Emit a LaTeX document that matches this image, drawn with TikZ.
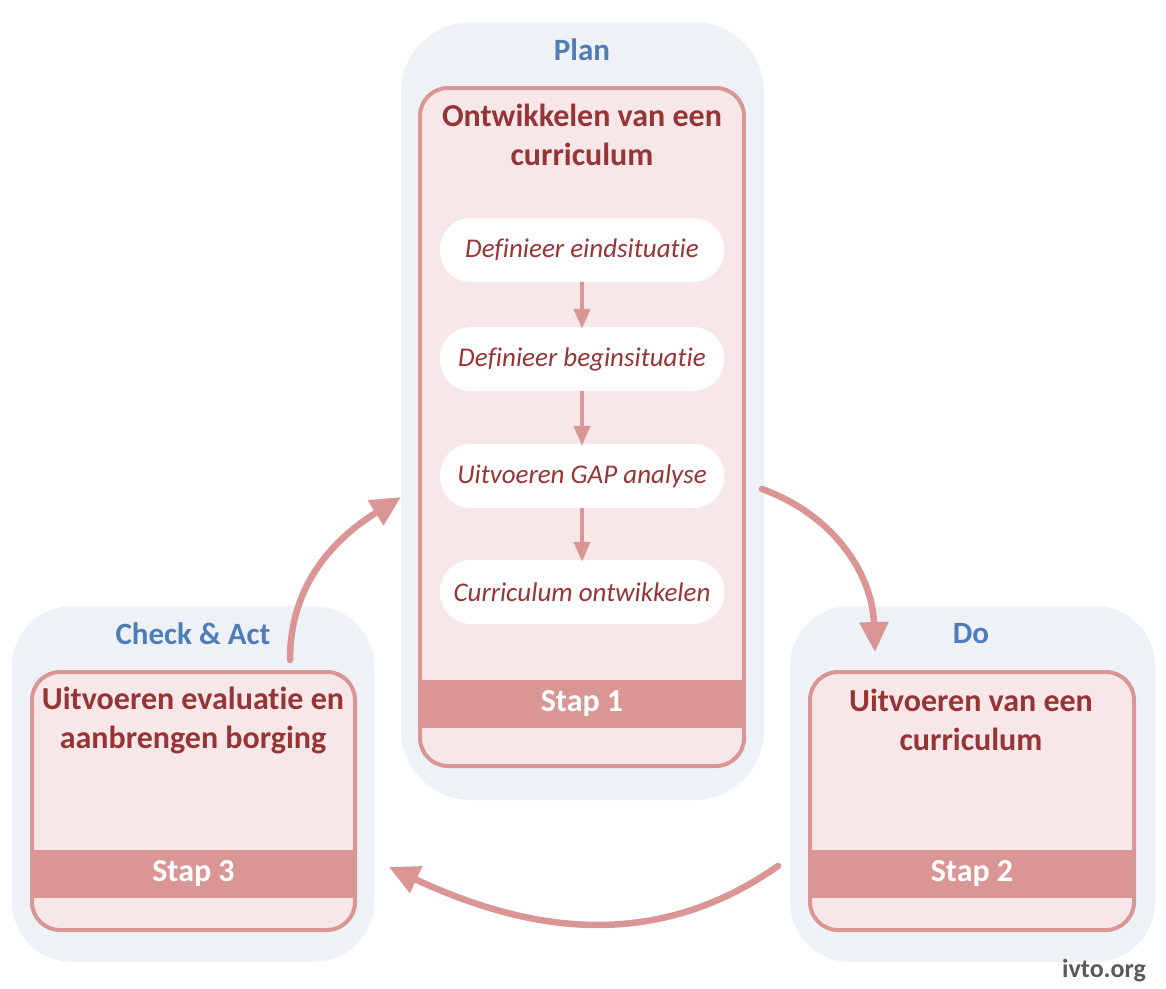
\documentclass[tikz,border=0pt]{standalone}
\usepackage{fontspec}
\setmainfont{Carlito}[Ligatures={NoCommon,NoRare,NoDiscretionary,NoContextual}]
\usetikzlibrary{arrows.meta}
\definecolor{outerfill}{HTML}{EEF2F7}
\definecolor{innerfill}{HTML}{F8E7E8}
\definecolor{pinkline}{HTML}{D99694}
\definecolor{darkred}{HTML}{963436}
\definecolor{phaseblue}{HTML}{4F7DB8}
\definecolor{markgray}{HTML}{595959}
\begin{document}
\begin{tikzpicture}[x=1pt,y=-1pt,
  outerbox/.style={fill=outerfill, draw=none, inner sep=0pt},
  innerbox/.style={fill=innerfill, draw=pinkline, line width=4pt, rounded corners=28pt, inner sep=0pt},
  band/.style={fill=pinkline, draw=none, inner sep=0pt, minimum height=48pt, text=white, font=\bfseries\fontsize{32}{38}\selectfont},
  pill/.style={fill=white, draw=none, rounded corners=31pt, inner sep=0pt, minimum width=284pt, minimum height=64pt, text=darkred, font=\itshape\fontsize{27}{32}\selectfont},
  phase/.style={text=phaseblue, font=\bfseries\fontsize{31}{36}\selectfont},
  boxtitle/.style={text=darkred, align=center, font=\bfseries\fontsize{32}{39}\selectfont},
  flow/.style={draw=pinkline, line width=6.5pt, -{Triangle[length=30pt,width=28pt]}},
  smallflow/.style={draw=pinkline, line width=4pt, -{Triangle[length=20pt,width=16pt]}}
]
\useasboundingbox (0,0) rectangle (1166,988);
\fill[white] (0,0) rectangle (1166,988);

% outer boxes
\node[outerbox, rounded corners=70pt, minimum width=363pt, minimum height=778pt] (planO) at (582.5,411) {};
\node[outerbox, rounded corners=60pt, minimum width=362pt, minimum height=356pt] (checkO) at (193,784) {};
\node[outerbox, rounded corners=60pt, minimum width=365pt, minimum height=356pt] (doO) at (972.5,784) {};

% inner boxes
\node[innerbox, minimum width=324pt, minimum height=678pt] (planI) at (582,427) {};
\node[innerbox, minimum width=323pt, minimum height=258pt] (checkI) at (193.5,801) {};
\node[innerbox, minimum width=324pt, minimum height=258pt] (doI) at (972,801) {};

% bands
\node[band, minimum width=320pt] (stap1) at (582,704) {Stap 1};
\node[band, minimum width=319pt] (stap3) at (193.5,874) {Stap 3};
\node[band, minimum width=320pt] (stap2) at (972,874) {Stap 2};

% phase titles
\node[phase] (plan) at (582,50) {Plan};
\node[phase] (check) at (193,634) {Check \& Act};
\node[phase] (do) at (971,634) {Do};

% box titles
\node[boxtitle] (planT) at (582,135) {Ontwikkelen van een\\curriculum};
\node[boxtitle] (checkT) at (193,720) {Uitvoeren evaluatie en\\aanbrengen borging};
\node[boxtitle] (doT) at (971,720) {Uitvoeren van een\\curriculum};

% pills
\node[pill] (p1) at (582,250) {Definieer eindsituatie};
\node[pill] (p2) at (582,359) {Definieer beginsituatie};
\node[pill] (p3) at (582,476) {Uitvoeren GAP analyse};
\node[pill] (p4) at (582,592) {Curriculum ontwikkelen};
\draw[smallflow] (p1.south) -- ([yshift=-2pt]p2.north);
\draw[smallflow] (p2.south) -- ([yshift=-2pt]p3.north);
\draw[smallflow] (p3.south) -- ([yshift=-2pt]p4.north);

% cycle arrows
\coordinate (a1s) at (762,489);
\coordinate (a1e) at (875,652);
\coordinate (a2s) at (778,866);
\coordinate (a2e) at (389,867);
\coordinate (a3s) at (290,660);
\coordinate (a3e) at (401,497);
\draw[flow, line cap=round] (a1s) to[out=-20, in=92] (a1e);
\draw[flow, line cap=round] (a2s) to[out=215, in=-25] (a2e);
\draw[flow, line cap=round] (a3s) to[out=90, in=212] (a3e);

\node[text=markgray, font=\bfseries\fontsize{26}{30}\selectfont] (mark) at (1104,971) {ivto.org};
\end{tikzpicture}
\end{document}
